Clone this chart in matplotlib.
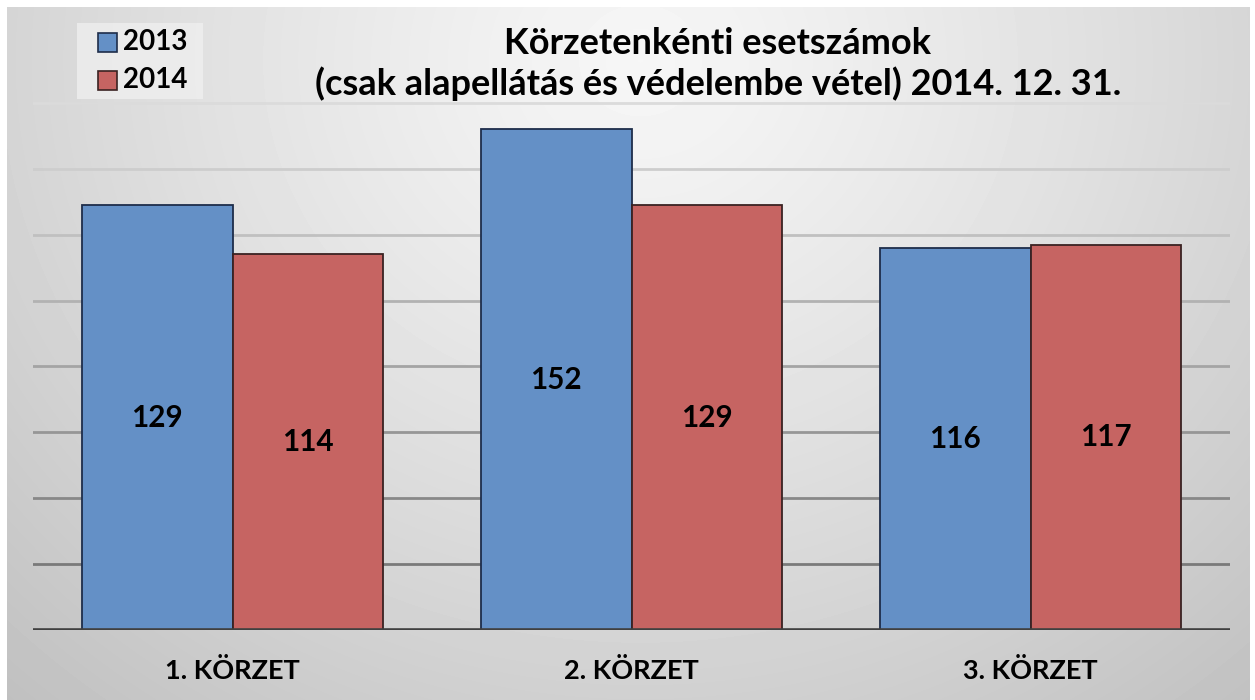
import numpy as np
import matplotlib.pyplot as plt
from matplotlib.patches import Rectangle

# data
districts = ["1. KÖRZET", "2. KÖRZET", "3. KÖRZET"]
years = ["2013", "2014"]
cases_2013 = [129, 152, 116]
cases_2014 = [114, 129, 117]
grid_values = [20, 40, 60, 80, 100, 120, 140, 160]

title = "Körzetenkénti esetszámok\n(csak alapellátás és védelembe vétel) 2014. 12. 31."

blue = "#6490c6"
red = "#c66462"
blue_edge = "#1e2d4a"
red_edge = "#3a2222"

plt.rcParams["font.family"] = ["Lato", "DejaVu Sans"]
plt.rcParams["font.weight"] = "bold"

W, H = 1255, 700
fig = plt.figure(figsize=(W / 100, H / 100), dpi=100)
fig.patch.set_facecolor("white")

# gradient background
bg = fig.add_axes([0, 0, 1, 1], zorder=0)
bg.set_xlim(0, W)
bg.set_ylim(H, 0)
bg.axis("off")
xx, yy = np.meshgrid(np.arange(7, 1250), np.arange(7, H))
r = np.hypot(xx - 640, (yy - 60) * 1.1) / 900.0
v = np.clip(0.965 - 0.2 * r ** 1.2, 0, 1)
bg.imshow(v, cmap="gray", vmin=0, vmax=1, extent=(7, 1250, H, 7),
          aspect="auto", interpolation="bilinear")

# legend box drawn in pixel coords
bg.add_patch(Rectangle((77, 23), 126, 76, facecolor="#efefef", edgecolor="none", alpha=0.8))
bg.add_patch(Rectangle((98, 33), 19, 19, facecolor=blue, edgecolor=blue_edge, lw=1.2))
bg.add_patch(Rectangle((98, 71), 19, 19, facecolor=red, edgecolor=red_edge, lw=1.2))
bg.text(123, 42.5, years[0], fontsize=20, fontweight="bold", va="center", ha="left", color="black")
bg.text(123, 80.5, years[1], fontsize=20, fontweight="bold", va="center", ha="left", color="black")

# title
bg.text(718, 64, title, fontsize=26, fontweight="bold", ha="center", va="center",
        linespacing=1.2, color="black")

# main axes
ax = fig.add_axes([33 / W, 1 - 630 / H, (1230 - 33) / W, (630 - 37) / H], zorder=1)
ax.patch.set_alpha(0)
ax.set_xlim(-0.5, 2.5)
ax.set_ylim(0, 180)
for s in ax.spines.values():
    s.set_visible(False)
ax.set_yticks([])
ax.tick_params(axis="x", length=0, pad=20, labelsize=19.5)

for gv in grid_values:
    shade = 0.48 + 0.38 * (gv - 20) / 140
    ax.axhline(gv, color=str(shade), lw=2.0, zorder=1)
ax.axhline(0, color="#404040", lw=2.6, zorder=3)

x = np.arange(len(districts))
w = 0.378
b1 = ax.bar(x - w / 2, cases_2013, w, color=blue, edgecolor=blue_edge, lw=1.3, zorder=2)
b2 = ax.bar(x + w / 2, cases_2014, w, color=red, edgecolor=red_edge, lw=1.3, zorder=2)

for bars, vals in ((b1, cases_2013), (b2, cases_2014)):
    for bar, val in zip(bars, vals):
        ax.text(bar.get_x() + bar.get_width() / 2, val / 2, str(val), ha="center", va="center",
                fontsize=21.3, fontweight="bold", color="black", zorder=4)

ax.set_xticks(x)
ax.set_xticklabels(districts, fontweight="bold")

fig.savefig("out.png", dpi=100)
